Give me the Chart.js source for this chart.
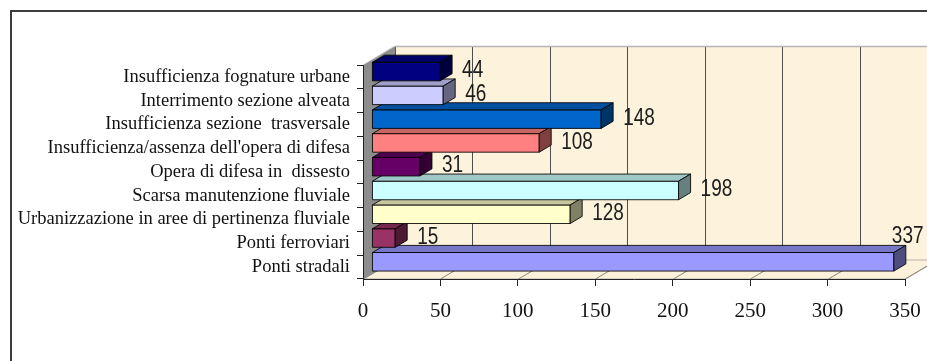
<!DOCTYPE html>
<html>
<head>
<meta charset="utf-8">
<script src="https://cdn.jsdelivr.net/npm/chart.js@4.4.1/dist/chart.umd.min.js"></script>
<style>
  html, body { margin: 0; padding: 0; background: #ffffff; }
  canvas { display: block; }
</style>
</head>
<body>
<canvas id="chart" width="927" height="361"></canvas>
<script>
// Categories, listed top to bottom
const categories = [
  'Insufficienza fognature urbane',
  'Interrimento sezione alveata',
  'Insufficienza sezione  trasversale',
  "Insufficienza/assenza dell'opera di difesa",
  'Opera di difesa in  dissesto',
  'Scarsa manutenzione fluviale',
  'Urbanizzazione in aree di pertinenza fluviale',
  'Ponti ferroviari',
  'Ponti stradali'
];

// Number of cases per cause
const counts = [44, 46, 148, 108, 31, 198, 128, 15, 337];

// Fill colour of each bar
const barColors = ['#000080', '#CCCCFF', '#0066CC', '#FF8080', '#660066', '#CCFFFF', '#FFFFCC', '#993366', '#9999FF'];

// Value axis ticks
const xTicks = [0, 50, 100, 150, 200, 250, 300, 350];

// Projection of the box depth (walls / floor) and where the bars sit inside it
const DEPTH = { x: 32, y: -19 };
const BAR_SET = 0.28;     // bars start this far back
const BAR_DEPTH = 0.375;  // thickness of each bar, as a share of the depth

function shade(hex, f) {
  const n = parseInt(hex.slice(1), 16);
  const r = Math.round(((n >> 16) & 255) * f);
  const g = Math.round(((n >> 8) & 255) * f);
  const b = Math.round((n & 255) * f);
  return `rgb(${r},${g},${b})`;
}

function poly(ctx, pts, fill, stroke, lw) {
  ctx.beginPath();
  ctx.moveTo(pts[0][0], pts[0][1]);
  for (let i = 1; i < pts.length; i++) ctx.lineTo(pts[i][0], pts[i][1]);
  ctx.closePath();
  if (fill) { ctx.fillStyle = fill; ctx.fill(); }
  if (stroke) { ctx.strokeStyle = stroke; ctx.lineWidth = lw || 1; ctx.stroke(); }
}

function line(ctx, x0, y0, x1, y1, color, lw) {
  ctx.beginPath();
  ctx.moveTo(x0, y0);
  ctx.lineTo(x1, y1);
  ctx.strokeStyle = color;
  ctx.lineWidth = lw || 1;
  ctx.stroke();
}

// Frame, back wall, floor and side wall of the 3-D box
const box3d = {
  id: 'box3d',
  beforeDraw(chart) {
    const { ctx, chartArea: a, scales: { x } } = chart;
    const dx = DEPTH.x, dy = DEPTH.y;
    const L = a.left, R = a.right, T = a.top, B = a.bottom;
    ctx.save();
    ctx.fillStyle = '#ffffff';
    ctx.fillRect(0, 0, chart.width, chart.height);

    // outer frame
    ctx.beginPath();
    ctx.moveTo(11, chart.height);
    ctx.lineTo(11, 11);
    ctx.lineTo(chart.width, 11);
    ctx.strokeStyle = '#3c3c3c';
    ctx.lineWidth = 2;
    ctx.stroke();

    // back wall
    poly(ctx, [[L + dx, T + dy], [R + dx, T + dy], [R + dx, B + dy], [L + dx, B + dy]], '#fdf3dc');
    // floor
    poly(ctx, [[L, B], [R, B], [R + dx, B + dy], [L + dx, B + dy]], '#fcf1da', '#b8b2a6', 1);

    // grid lines on the back wall and across the floor
    xTicks.forEach(v => {
      const px = Math.round(x.getPixelForValue(v)) + 0.5;
      line(ctx, px + dx, T + dy, px + dx, B + dy, '#4e4e4e', 1);
      line(ctx, px, B, px + dx, B + dy, '#8a857c', 1);
    });

    // top edge of the back wall
    line(ctx, L + dx, T + dy + 0.5, chart.width, T + dy + 0.5, '#b4b4b4', 1.5);

    // side wall
    poly(ctx, [[L, T], [L + dx, T + dy], [L + dx, B + dy], [L, B]], '#8d8d8d');
    line(ctx, L, T, L + dx, T + dy, '#c8c8c8', 1);
    ctx.restore();
  },
  beforeDatasetDraw() {
    return false; // bars are drawn as boxes below
  },
  afterDatasetsDraw(chart) {
    const { ctx } = chart;
    const meta = chart.getDatasetMeta(0);
    const ds = chart.data.datasets[0];
    const sx = DEPTH.x * BAR_SET, sy = DEPTH.y * BAR_SET;
    const bx = DEPTH.x * BAR_DEPTH, by = DEPTH.y * BAR_DEPTH;
    ctx.save();
    ctx.lineJoin = 'round';
    const outline = 'rgba(0,0,0,0.85)';
    const boxes = [];
    // draw from the bottom bar upwards so upper bars overlap lower top faces
    for (let i = meta.data.length - 1; i >= 0; i--) {
      const el = meta.data[i];
      const p = el.getProps(['x', 'y', 'base', 'height'], true);
      const x0 = p.base + sx, x1 = p.x + sx;
      const y0 = p.y - p.height / 2 + sy, y1 = p.y + p.height / 2 + sy;
      const col = ds.backgroundColor[i];
      // front
      poly(ctx, [[x0, y0], [x1, y0], [x1, y1], [x0, y1]], col, outline, 1);
      // top
      poly(ctx, [[x0, y0], [x1, y0], [x1 + bx, y0 + by], [x0 + bx, y0 + by]], shade(col, 0.78), outline, 1);
      // end
      poly(ctx, [[x1, y0], [x1 + bx, y0 + by], [x1 + bx, y1 + by], [x1, y1]], shade(col, 0.5), outline, 1);
      boxes[i] = { x1, y0, y1 };
    }

    // value labels (slightly tall, narrow lettering)
    ctx.font = '20px "Liberation Sans", Arial, sans-serif';
    ctx.fillStyle = '#1c1c1c';
    ctx.textBaseline = 'middle';
    ctx.textAlign = 'left';
    boxes.forEach((b, i) => {
      const txt = String(ds.data[i]);
      const w = ctx.measureText(txt).width * 0.95;
      let tx = b.x1 + bx + 10;
      let ty = (b.y0 + b.y1) / 2 - 1;
      if (tx + w > chart.width) {
        tx = b.x1 - 2;
        ty = b.y0 + by - 9;
      }
      ctx.save();
      ctx.translate(tx, ty);
      ctx.scale(0.95, 1.22);
      ctx.fillText(txt, 0, 0);
      ctx.restore();
    });
    ctx.restore();
  }
};

new Chart(document.getElementById('chart'), {
  type: 'bar',
  data: {
    labels: categories,
    datasets: [{
      data: counts,
      backgroundColor: barColors,
      barPercentage: 0.78,
      categoryPercentage: 1.0
    }]
  },
  options: {
    responsive: false,
    animation: false,
    indexAxis: 'y',
    layout: { padding: { top: 65, right: 22, bottom: 0, left: 0 } },
    plugins: {
      legend: { display: false },
      tooltip: { enabled: false }
    },
    scales: {
      x: {
        min: 0,
        max: 350,
        afterBuildTicks: s => { s.ticks = xTicks.map(v => ({ value: v })); },
        afterFit: s => { s.height = 82; s.paddingLeft = 0; s.paddingRight = 0; },
        grid: { drawOnChartArea: false, tickLength: 7, color: '#222222' },
        border: { color: '#222222', width: 1 },
        ticks: {
          font: { family: '"Liberation Serif", "Times New Roman", serif', size: 21 },
          color: '#111111',
          padding: 13,
          maxRotation: 0,
          autoSkip: false
        }
      },
      y: {
        afterFit: s => { s.width = 363; s.paddingTop = 0; s.paddingBottom = 0; },
        grid: { drawOnChartArea: false, tickLength: 6, color: '#222222', offset: true },
        border: { color: '#222222', width: 1 },
        ticks: {
          font: { family: '"Liberation Serif", "Times New Roman", serif', size: 18.5 },
          color: '#111111',
          padding: 7,
          autoSkip: false
        }
      }
    }
  },
  plugins: [box3d]
});
</script>
</body>
</html>
